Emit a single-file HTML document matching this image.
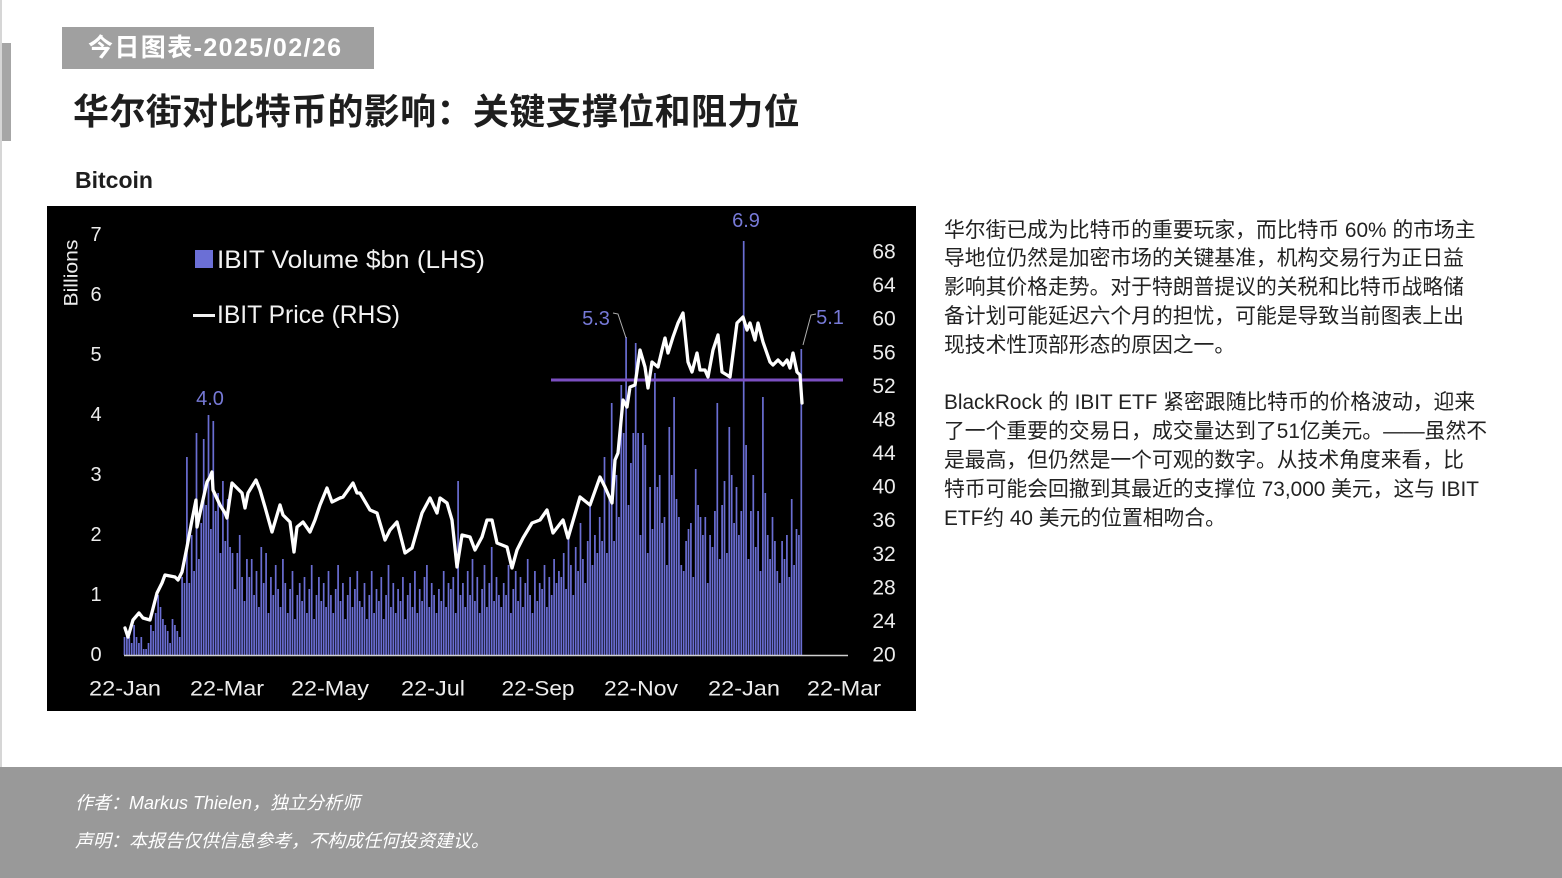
<!DOCTYPE html>
<html>
<head>
<meta charset="utf-8">
<style>
html,body{margin:0;padding:0;}
body{width:1562px;height:878px;background:#fff;position:relative;overflow:hidden;font-family:"Liberation Sans","Noto Sans CJK SC",sans-serif;}
.abs{position:absolute;white-space:nowrap;}
#leftline{left:0;top:0;width:2px;height:767px;background:#d6d6d6;}
#leftbar{left:2px;top:43px;width:9px;height:98px;background:#a6a6a6;}
#hdr{left:62px;top:27px;width:312px;height:42px;background:#a0a0a0;color:#fff;font-weight:bold;font-size:25px;line-height:42px;box-sizing:border-box;padding-left:26px;letter-spacing:1.4px;font-family:"Liberation Sans","Noto Sans CJK SC",sans-serif;}
#title{left:73px;top:90px;font-size:36px;line-height:44px;font-weight:bold;color:#1e1e1e;letter-spacing:0.35px;font-family:"Liberation Sans","Noto Sans CJK SC",sans-serif;}
#sub{left:75px;top:165px;font-size:23px;line-height:30px;font-weight:bold;color:#1e1e1e;}
#body{left:944px;top:216.6px;font-size:20.8px;line-height:28.8px;color:#222;font-family:"Liberation Sans","Noto Sans CJK SC",sans-serif;}
#footer{left:0;top:767px;width:1562px;height:111px;background:#999999;}
.ft{left:75px;color:#fff;font-style:italic;font-size:18px;line-height:24px;font-family:"Liberation Sans","Noto Sans CJK SC",sans-serif;}
svg{position:absolute;left:0;top:0;}
</style>
</head>
<body>
<div class="abs" id="leftline"></div>
<div class="abs" id="leftbar"></div>
<div class="abs" id="hdr">今日图表-2025/02/26</div>
<div class="abs" id="title">华尔街对比特币的影响：关键支撑位和阻力位</div>
<div class="abs" id="sub">Bitcoin</div>

<svg width="1562" height="878" viewBox="0 0 1562 878" xmlns="http://www.w3.org/2000/svg">
<rect x="47" y="206" width="869" height="505" fill="#000"/>
<!-- bars -->
<path fill="none" stroke="#6a6ed2" stroke-width="1.7" d="M124.5 655V637V655m2.4 0V631V655m2.4 0V637V655m2.4 0V643V655m2.4 0V625V655m2.4 0V637V655m2.4 0V643V655m2.4 0V637V655m2.4 0V649V655m2.4 0V649V655m2.4 0V643V655m2.4 0V625V655m2.4 0V631V655m2.4 0V613V655m2.4 0V595V655m2.4 0V607V655m2.4 0V619V655m2.4 0V625V655m2.4 0V631V655m2.4 0V643V655m2.4 0V619V655m2.4 0V625V655m2.4 0V631V655m2.4 0V637V655m2.4 0V577V655m2.4 0V583V655m2.4 0V457V655m2.4 0V583V655m2.4 0V535V655m2.4 0V571V655m2.4 0V433V655m2.4 0V559V655m2.4 0V523V655m2.4 0V439V655m2.4 0V505V655m2.4 0V415V655m2.4 0V529V655m2.4 0V421V655m2.4 0V511V655m2.4 0V493V655m2.4 0V553V655m2.4 0V481V655m2.4 0V541V655m2.4 0V499V655m2.4 0V547V655m2.4 0V553V655m2.4 0V589V655m2.4 0V553V655m2.4 0V535V655m2.4 0V577V655m2.4 0V601V655m2.4 0V559V655m2.4 0V577V655m2.4 0V559V655m2.4 0V595V655m2.4 0V571V655m2.4 0V607V655m2.4 0V547V655m2.4 0V583V655m2.4 0V553V655m2.4 0V613V655m2.4 0V577V655m2.4 0V595V655m2.4 0V565V655m2.4 0V589V655m2.4 0V607V655m2.4 0V559V655m2.4 0V583V655m2.4 0V613V655m2.4 0V589V655m2.4 0V571V655m2.4 0V619V655m2.4 0V595V655m2.4 0V583V655m2.4 0V601V655m2.4 0V577V655m2.4 0V613V655m2.4 0V589V655m2.4 0V565V655m2.4 0V619V655m2.4 0V595V655m2.4 0V577V655m2.4 0V601V655m2.4 0V583V655m2.4 0V607V655m2.4 0V571V655m2.4 0V595V655m2.4 0V613V655m2.4 0V589V655m2.4 0V565V655m2.4 0V601V655m2.4 0V583V655m2.4 0V619V655m2.4 0V595V655m2.4 0V577V655m2.4 0V607V655m2.4 0V589V655m2.4 0V571V655m2.4 0V601V655m2.4 0V607V655m2.4 0V583V655m2.4 0V619V655m2.4 0V595V655m2.4 0V571V655m2.4 0V613V655m2.4 0V589V655m2.4 0V601V655m2.4 0V577V655m2.4 0V619V655m2.4 0V595V655m2.4 0V565V655m2.4 0V607V655m2.4 0V583V655m2.4 0V613V655m2.4 0V589V655m2.4 0V601V655m2.4 0V577V655m2.4 0V619V655m2.4 0V595V655m2.4 0V583V655m2.4 0V607V655m2.4 0V571V655m2.4 0V613V655m2.4 0V589V655m2.4 0V601V655m2.4 0V577V655m2.4 0V565V655m2.4 0V607V655m2.4 0V583V655m2.4 0V595V655m2.4 0V613V655m2.4 0V589V655m2.4 0V601V655m2.4 0V571V655m2.4 0V607V655m2.4 0V583V655m2.4 0V589V655m2.4 0V577V655m2.4 0V613V655m2.4 0V481V655m2.4 0V595V655m2.4 0V583V655m2.4 0V607V655m2.4 0V571V655m2.4 0V595V655m2.4 0V559V655m2.4 0V601V655m2.4 0V577V655m2.4 0V613V655m2.4 0V589V655m2.4 0V565V655m2.4 0V607V655m2.4 0V583V655m2.4 0V547V655m2.4 0V601V655m2.4 0V577V655m2.4 0V595V655m2.4 0V607V655m2.4 0V583V655m2.4 0V595V655m2.4 0V565V655m2.4 0V613V655m2.4 0V589V655m2.4 0V571V655m2.4 0V601V655m2.4 0V577V655m2.4 0V607V655m2.4 0V583V655m2.4 0V559V655m2.4 0V595V655m2.4 0V613V655m2.4 0V571V655m2.4 0V601V655m2.4 0V583V655m2.4 0V589V655m2.4 0V565V655m2.4 0V607V655m2.4 0V577V655m2.4 0V595V655m2.4 0V559V655m2.4 0V583V655m2.4 0V571V655m2.4 0V577V655m2.4 0V553V655m2.4 0V589V655m2.4 0V535V655m2.4 0V565V655m2.4 0V595V655m2.4 0V547V655m2.4 0V571V655m2.4 0V523V655m2.4 0V559V655m2.4 0V583V655m2.4 0V541V655m2.4 0V505V655m2.4 0V565V655m2.4 0V535V655m2.4 0V553V655m2.4 0V517V655m2.4 0V541V655m2.4 0V457V655m2.4 0V553V655m2.4 0V499V655m2.4 0V403V655m2.4 0V541V655m2.4 0V475V655m2.4 0V517V655m2.4 0V385V655m2.4 0V433V655m2.4 0V337V655m2.4 0V505V655m2.4 0V463V655m2.4 0V433V655m2.4 0V343V655m2.4 0V433V655m2.4 0V535V655m2.4 0V433V655m2.4 0V445V655m2.4 0V553V655m2.4 0V487V655m2.4 0V529V655m2.4 0V373V655m2.4 0V487V655m2.4 0V475V655m2.4 0V523V655m2.4 0V517V655m2.4 0V565V655m2.4 0V427V655m2.4 0V475V655m2.4 0V397V655m2.4 0V499V655m2.4 0V517V655m2.4 0V565V655m2.4 0V571V655m2.4 0V541V655m2.4 0V529V655m2.4 0V523V655m2.4 0V577V655m2.4 0V469V655m2.4 0V505V655m2.4 0V517V655m2.4 0V535V655m2.4 0V517V655m2.4 0V583V655m2.4 0V535V655m2.4 0V547V655m2.4 0V511V655m2.4 0V403V655m2.4 0V559V655m2.4 0V505V655m2.4 0V481V655m2.4 0V553V655m2.4 0V427V655m2.4 0V475V655m2.4 0V523V655m2.4 0V487V655m2.4 0V535V655m2.4 0V511V655m2.4 0V241V655m2.4 0V445V655m2.4 0V559V655m2.4 0V511V655m2.4 0V475V655m2.4 0V547V655m2.4 0V511V655m2.4 0V571V655m2.4 0V397V655m2.4 0V493V655m2.4 0V535V655m2.4 0V559V655m2.4 0V517V655m2.4 0V541V655m2.4 0V571V655m2.4 0V583V655m2.4 0V541V655m2.4 0V559V655m2.4 0V535V655m2.4 0V577V655m2.4 0V499V655m2.4 0V565V655m2.4 0V529V655m2.4 0V535V655m2.4 0V349V655"/>
<!-- baseline -->
<line x1="124" y1="655.5" x2="848" y2="655.5" stroke="#cfcfcf" stroke-width="1.5"/>
<!-- resistance line -->
<line x1="551" y1="380" x2="843" y2="380" stroke="#7b4fc2" stroke-width="3"/>
<!-- price line -->
<path fill="none" stroke="#ffffff" stroke-width="3.3" stroke-linejoin="round" stroke-linecap="round" d="M125 628 L128 637 L133 620 L139 613 L143 618 L150 620 L157 593 L162 583 L165 575 L175 577 L178 580 L182 572 L187 547 L192 520 L196 500 L197 527 L200 513 L207 482 L210 477 L212 472 L213 490 L220 505 L225 513 L227 518 L232 483 L237 488 L242 493 L245 508 L248 493 L256 480 L260 490 L265 507 L272 532 L280 505 L283 515 L290 522 L294 552 L297 527 L303 522 L310 532 L315 520 L320 505 L327 488 L332 502 L340 498 L343 497 L353 483 L357 493 L360 493 L370 510 L377 513 L385 540 L390 530 L397 522 L405 553 L412 548 L422 513 L430 498 L437 513 L440 498 L447 503 L452 520 L457 567 L462 535 L470 537 L475 550 L482 537 L487 520 L492 520 L497 543 L507 547 L512 568 L517 550 L523 538 L532 523 L540 520 L547 510 L553 533 L563 520 L568 538 L580 497 L590 505 L600 477 L605 487 L612 503 L615 460 L618 453 L623 400 L627 407 L630 387 L635 385 L640 350 L645 367 L648 388 L652 362 L658 367 L662 350 L665 338 L668 353 L673 337 L678 323 L683 313 L688 362 L692 372 L697 353 L700 370 L705 370 L708 377 L713 350 L718 335 L722 372 L727 375 L730 377 L737 323 L743 317 L747 330 L750 323 L755 340 L758 323 L763 342 L770 362 L773 365 L778 360 L783 365 L787 360 L790 368 L793 353 L797 372 L800 375 L802 403"/>
<!-- leader lines -->
<polyline fill="none" stroke="#b0b0b0" stroke-width="1" points="613,313 618,314 626,338"/>
<polyline fill="none" stroke="#b0b0b0" stroke-width="1" points="816,314 811,315 803,345"/>

<g font-family="Liberation Sans, sans-serif" fill="#ececec">
<!-- left ticks -->
<g font-size="20" text-anchor="middle">
<text x="96" y="661">0</text>
<text x="96" y="601">1</text>
<text x="96" y="541">2</text>
<text x="96" y="481">3</text>
<text x="96" y="421">4</text>
<text x="96" y="361">5</text>
<text x="96" y="301">6</text>
<text x="96" y="241">7</text>
</g>
<!-- right ticks -->
<g font-size="21" text-anchor="middle">
<text x="884" y="661.5">20</text>
<text x="884" y="628">24</text>
<text x="884" y="594.3">28</text>
<text x="884" y="560.8">32</text>
<text x="884" y="527.2">36</text>
<text x="884" y="493.6">40</text>
<text x="884" y="460">44</text>
<text x="884" y="426.4">48</text>
<text x="884" y="392.9">52</text>
<text x="884" y="359.3">56</text>
<text x="884" y="325.7">60</text>
<text x="884" y="292.1">64</text>
<text x="884" y="258.5">68</text>
</g>
<!-- x labels -->
<g font-size="21" text-anchor="middle">
<text x="125" y="695.5" textLength="72" lengthAdjust="spacingAndGlyphs">22-Jan</text>
<text x="227" y="695.5" textLength="74" lengthAdjust="spacingAndGlyphs">22-Mar</text>
<text x="330" y="695.5" textLength="78" lengthAdjust="spacingAndGlyphs">22-May</text>
<text x="433" y="695.5" textLength="64" lengthAdjust="spacingAndGlyphs">22-Jul</text>
<text x="538" y="695.5" textLength="73" lengthAdjust="spacingAndGlyphs">22-Sep</text>
<text x="641" y="695.5" textLength="74" lengthAdjust="spacingAndGlyphs">22-Nov</text>
<text x="744" y="695.5" textLength="72" lengthAdjust="spacingAndGlyphs">22-Jan</text>
<text x="844" y="695.5" textLength="74" lengthAdjust="spacingAndGlyphs">22-Mar</text>
</g>
<!-- Billions -->
<text x="71" y="279.5" font-size="19" text-anchor="middle" transform="rotate(-90 71 273)" textLength="67" lengthAdjust="spacingAndGlyphs">Billions</text>
<!-- legend -->
<rect x="195" y="250" width="18" height="18" fill="#6b6fd6"/>
<text x="217" y="268" font-size="25" fill="#f2f2f2" textLength="268" lengthAdjust="spacingAndGlyphs">IBIT Volume $bn (LHS)</text>
<line x1="193" y1="315.5" x2="215" y2="315.5" stroke="#f2f2f2" stroke-width="3"/>
<text x="217" y="323" font-size="25" fill="#f2f2f2" textLength="183" lengthAdjust="spacingAndGlyphs">IBIT Price (RHS)</text>
</g>
<!-- annotations -->
<g font-family="Liberation Sans, sans-serif" font-size="20" fill="#7679d6" text-anchor="middle">
<text x="210" y="405">4.0</text>
<text x="596" y="325">5.3</text>
<text x="746" y="227">6.9</text>
<text x="830" y="324">5.1</text>
</g>
</svg>

<div class="abs" id="body">华尔街已成为比特币的重要玩家，而比特币 60% 的市场主<br>导地位仍然是加密市场的关键基准，机构交易行为正日益<br>影响其价格走势。对于特朗普提议的关税和比特币战略储<br>备计划可能延迟六个月的担忧，可能是导致当前图表上出<br>现技术性顶部形态的原因之一。<br><br>BlackRock 的 IBIT ETF 紧密跟随比特币的价格波动，迎来<br>了一个重要的交易日，成交量达到了51亿美元。——虽然不<br>是最高，但仍然是一个可观的数字。从技术角度来看，比<br>特币可能会回撤到其最近的支撑位 73,000 美元，这与 IBIT<br>ETF约 40 美元的位置相吻合。</div>

<div class="abs" id="footer"></div>
<div class="abs ft" style="top:791px;">作者：Markus Thielen，独立分析师</div>
<div class="abs ft" style="top:829px;">声明：本报告仅供信息参考，不构成任何投资建议。</div>
</body>
</html>
